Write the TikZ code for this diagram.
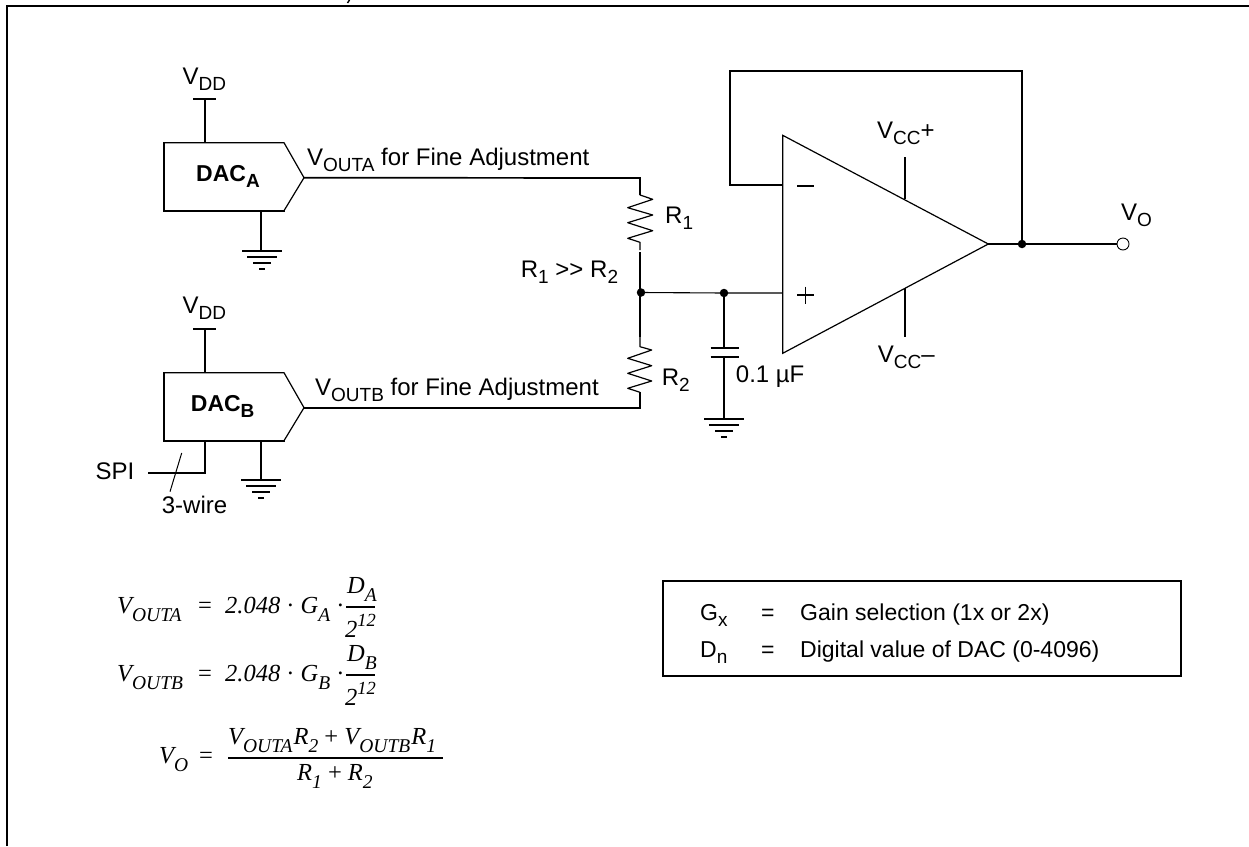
\documentclass[tikz,border=0pt]{standalone}
\usepackage{fontspec}
\setmainfont{Liberation Sans}
\newfontfamily\tms{Liberation Serif}
\newcommand{\dn}[1]{\raisebox{-6pt}{\fontsize{19}{20}\selectfont #1}}
\newcommand{\es}[1]{\raisebox{-8pt}{\fontsize{19.500}{20}\selectfont #1}}
\newcommand{\eu}[1]{\raisebox{11pt}{\fontsize{18.5}{20}\selectfont #1}}
\newcommand{\dacshape}[2]{%
 \draw[line width=1.2pt] (#1,#2) -- (#1+120,#2) -- (#1+140,#2+35) -- (#1+120,#2+68);
 \draw[wire,line cap=rect] (#1+120,#2+68) -- (#1,#2+68) -- (#1,#2);}
\newcommand{\gnd}[2]{%
 \draw[wire] (#1-20,#2) -- (#1+20,#2);
 \draw[wire] (#1-15,#2+6) -- (#1+15,#2+6);
 \draw[wire] (#1-9,#2+12) -- (#1+9,#2+12);
 \draw[wire] (#1-3,#2+18) -- (#1+3,#2+18);}
\tikzset{
 wire/.style={line width=1.7pt},
 thinwire/.style={line width=1.1pt},
 body/.style={line width=1.2pt},
 lbl/.style={inner sep=0pt,anchor=base west,font=\fontsize{24}{26}\selectfont},
 leg/.style={inner sep=0pt,anchor=base west,font=\fontsize{23}{26}\selectfont},
 blbl/.style={inner sep=0pt,anchor=base west,font=\fontsize{23}{26}\selectfont\bfseries},
 dot/.style={circle,fill=black,inner sep=0pt,minimum size=8.5pt},
 opendot/.style={circle,draw=black,fill=white,line width=.9pt,inner sep=0pt,minimum size=12pt},
 eq/.style={inner sep=0pt,anchor=base west,font=\fontsize{24.500}{26}\selectfont\tms\itshape},
}
\begin{document}
\begin{tikzpicture}[x=1pt,y=-1pt]
\useasboundingbox (0,0) rectangle (1249,846);
% frame
\coordinate (fbl) at (7,846); \coordinate (ftl) at (7,6); \coordinate (ftr) at (1249,6);
\draw[line width=1.9pt] (fbl) -- (ftl) -- (ftr);
\draw[line width=1.5pt] (349.500,0) -- (347.500,3);
% DAC A
\dacshape{164}{142.700}
\coordinate (dacAout) at (304,177.700);
\draw[wire] (205,142.700) -- (205,99);
\draw[wire] (193,99) -- (216,99);
\node[lbl] (vdda) at (182.500,84) {V\dn{DD}};
\node[blbl] (daca) at (196,181) {DAC\dn{A}};
\draw[wire] (261,210.700) -- (261,250.700);
\gnd{262}{250.700}
\node[lbl] (voa) at (307,165) {V\dn{OUTA} for Fine Adjustment};
% DAC B
\dacshape{164}{372.700}
\coordinate (dacBout) at (304,407.700);
\draw[wire] (205,372.700) -- (205,329);
\draw[wire] (193,329) -- (216,329);
\node[lbl] (vddb) at (182.500,313) {V\dn{DD}};
\node[blbl] (dacb) at (190.700,411.700) {DAC\dn{B}};
\draw[wire] (261,440.700) -- (261,480);
\gnd{261}{480}
\draw[wire] (205,440.700) -- (205,472.700) -- (148,472.700);
\draw[line width=1pt] (181.700,453) -- (170,491.700);
\node[lbl] (spi) at (95.500,479) {SPI};
\node[lbl] (wire3) at (161.700,513) {3-wire};
\node[lbl] (vob) at (315,395) {V\dn{OUTB} for Fine Adjustment};
% Resistors
\coordinate (r1t) at (640,178);
\coordinate (j1) at (641,292.500);
\coordinate (r2b) at (640,407.700);
\draw[wire] (dacAout) -- (r1t) -- (640,195);
\draw[line width=1.2pt,line join=round] (640,195) -- (652.700,199.300) -- (627.700,207.700) -- (652.700,215) -- (627.700,222.700) -- (652.700,230.700) -- (627.700,238.300) -- (640,242.300) -- (640,250);
\draw[wire] (640,252) -- (640,292.500) -- (640,337);
\draw[line width=1.2pt,line join=round] (640,337) -- (640,346.700) -- (651.700,350) -- (627.700,358.300) -- (651.700,365.700) -- (627.700,373.300) -- (651.700,381) -- (627.700,388.300) -- (640,392.300);
\draw[wire] (640,392.300) -- (r2b) -- (dacBout);
\node[dot] (jn1) at (j1) {};
\node[lbl] (r1) at (665,223.300) {R\dn{1}};
\node[lbl] (r2) at (661.700,385) {R\dn{2}};
\node[lbl] (rr) at (520.700,277.700) {R\dn{1} >{}> R\dn{2}};
% op amp
\coordinate (oa1) at (782.700,135.300);
\coordinate (oa2) at (782.700,353.300);
\coordinate (oa3) at (988.300,244);
\draw[body] (oa1) -- (oa3) -- (oa2) -- cycle;
\coordinate (j2) at (724,293);
\draw[thinwire] (j1) -- (j2) -- (782.700,293);
\node[dot] (jn2) at (j2) {};
\draw[wire] (j2) -- (724,348.300);
\draw[wire] (710.700,348.300) -- (739,348.300);
\draw[wire] (710.700,356.700) -- (739,356.700);
\draw[wire] (724,356.700) -- (724,418.700);
\gnd{724}{418.700}
\node[lbl] (cap) at (735.700,382.700) {0.1 µF};
% feedback
\draw[wire] (782.700,185) -- (730,185) -- (730,71) -- (1022,71) -- (1022,244);
\node[opendot] (vout) at (1123,244) {};
\draw[wire] (oa3) -- (vout);
\node[dot] (jn3) at (1022,244) {};
\node[lbl] (vo) at (1121,220) {V\dn{O}};
\draw[wire] (797,185.700) -- (814,185.700);
\draw[wire] (797,295) -- (814,295);
\draw[wire] (805.500,286.500) -- (805.500,303.500);
\draw[wire] (905,157) -- (905,199);
\draw[wire] (905,288) -- (905,337);
\node[lbl] (vcp) at (877,138) {V\dn{CC}+};
\node[lbl] (vcm) at (877.700,362.700) {V\dn{CC}–};
% legend
\coordinate (lga) at (663,581); \coordinate (lgb) at (1181,676);
\draw[line width=1.7pt] (lga) rectangle (lgb);
\node[leg] (gx) at (700,620) {G\dn{x}};
\node[leg] (eq1) at (761,620) {=};
\node[leg] (gain) at (800,620) {Gain selection (1x or 2x)};
\node[leg] (dnn) at (700,657) {D\dn{n}};
\node[leg] (eq2) at (761,657) {=};
\node[leg] (dig) at (800,657) {Digital value of DAC (0-4096)};
% equations
\node[eq] (e1) at (117,613) {V\es{OUTA}};
\node[eq] (e1b) at (198,613) {{\upshape=}};
\node[eq] (e1c) at (225,613) {2.048 {\upshape·} G\es{A} {\upshape·}};
\node[eq] (e1n) at (347,593) {D\es{A}};
\node[eq] (e1d) at (345,637) {2\eu{12}};
\coordinate (f1a) at (346,607); \coordinate (f1b) at (375,607);
\draw[line width=1.5pt] (f1a) -- (f1b);
\node[eq] (e2) at (117,681) {V\es{OUTB}};
\node[eq] (e2b) at (198,681) {{\upshape=}};
\node[eq] (e2c) at (225,681) {2.048 {\upshape·} G\es{B} {\upshape·}};
\node[eq] (e2n) at (347,661) {D\es{B}};
\node[eq] (e2d) at (345,705) {2\eu{12}};
\coordinate (f2a) at (346,675); \coordinate (f2b) at (375,675);
\draw[line width=1.5pt] (f2a) -- (f2b);
\node[eq] (e3) at (159,763) {V\es{O}};
\node[eq] (e3b) at (199,763) {{\upshape=}};
\node[eq] (e3n) at (228,744) {V\es{OUTA}\hspace{1pt}R\es{2} {\upshape+} V\es{OUTB}\hspace{1pt}R\es{1}};
\node[eq] (e3d) at (297,780) {R\es{1} {\upshape+} R\es{2}};
\coordinate (f3a) at (228,758); \coordinate (f3b) at (443,758);
\draw[line width=1.5pt] (f3a) -- (f3b);
\end{tikzpicture}
\end{document}
